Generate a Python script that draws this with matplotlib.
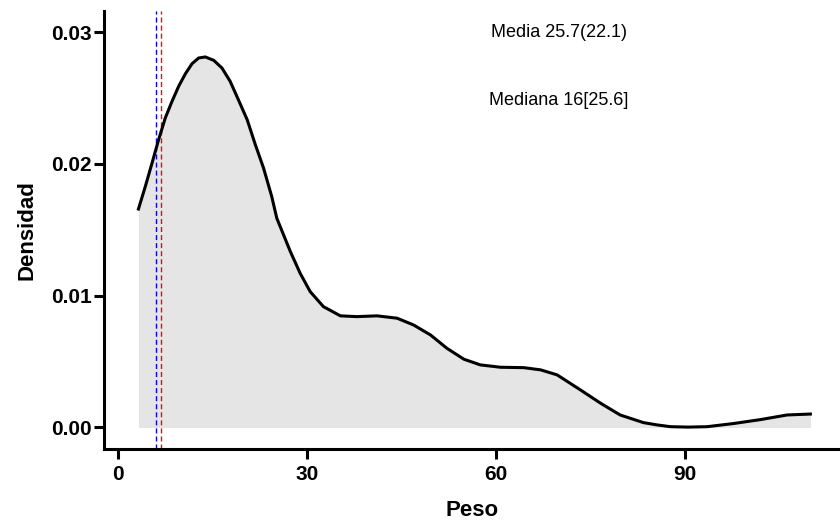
import numpy as np
import matplotlib
matplotlib.use("Agg")
import matplotlib.pyplot as plt

plt.rcParams['font.family'] = ['Liberation Sans', 'DejaVu Sans']

# density curve of "Peso"
peso = [3.24, 4.33, 5.40, 6.44, 7.5, 8.57, 9.62, 10.7, 11.75, 12.8, 13.86,
        15.2, 16.5, 17.8, 19.1, 20.5, 21.8, 23.1, 24.4, 25.2, 27.35, 28.9,
        30.5, 32.6, 35.3, 37.9, 41.1, 44.3, 46.9, 49.6, 52.2, 54.9, 57.5,
        60.7, 64.4, 67.1, 69.7, 73.4, 76.6, 79.7, 83.4, 85.5, 87.7, 90.5,
        93.5, 97.7, 102.0, 106.2, 109.9]
densidad = [0.01657, 0.01828, 0.02006, 0.02183, 0.02348, 0.02474, 0.02588,
            0.02684, 0.0276, 0.02803, 0.02811, 0.02785, 0.02727, 0.02626,
            0.02487, 0.02335, 0.02145, 0.01968, 0.01752, 0.01588, 0.01335,
            0.01171, 0.01031, 0.00917, 0.00847, 0.00841, 0.00847, 0.00829,
            0.00778, 0.00702, 0.00601, 0.00518, 0.00475, 0.00457, 0.00454,
            0.00437, 0.00399, 0.00285, 0.00184, 0.00095, 0.00037, 0.0002,
            0.00006, 0.00003, 0.00006, 0.0003, 0.0006, 0.00095, 0.00102]

vline_x = [6.0, 6.85]
vline_col = ['blue', 'red']

texto_media = "Media 25.7(22.1)"
texto_mediana = "Mediana 16[25.6]"

fig = plt.figure(figsize=(8.4, 5.21), dpi=100)
ax = fig.add_axes([0.124, 0.139, 0.876, 0.840])

ax.fill_between(peso, 0, densidad, color='#E5E5E5', linewidth=0, zorder=1)
for xv, c in zip(vline_x, vline_col):
    ax.axvline(xv, color=c, lw=1.0, dashes=(3.6, 2.2), zorder=2)
ax.plot(peso, densidad, color='black', lw=2.2, zorder=3,
        solid_joinstyle='round')

ax.text(70.0, 0.0300, texto_media, ha='center', va='center', fontsize=13)
ax.text(70.0, 0.0248, texto_mediana, ha='center', va='center', fontsize=13)

ax.set_xlim(-2.2, 114.6)
ax.set_ylim(-0.0016, 0.0316)
ax.set_xticks([0, 30, 60, 90])
ax.set_yticks([0.0, 0.01, 0.02, 0.03])
ax.set_yticklabels(['0.00', '0.01', '0.02', '0.03'])

for s in ['top', 'right']:
    ax.spines[s].set_visible(False)
for s in ['left', 'bottom']:
    ax.spines[s].set_linewidth(2.2)
ax.tick_params(axis='both', length=7.5, width=2.2, labelsize=15)
ax.tick_params(axis='y', pad=1.5)
ax.tick_params(axis='x', pad=4)
for lab in ax.get_xticklabels() + ax.get_yticklabels():
    lab.set_fontweight('bold')

ax.set_xlabel('Peso', fontsize=16, fontweight='bold', labelpad=12)
ax.set_ylabel('Densidad', fontsize=16, fontweight='bold', labelpad=10)

fig.savefig('out.png', dpi=100)
